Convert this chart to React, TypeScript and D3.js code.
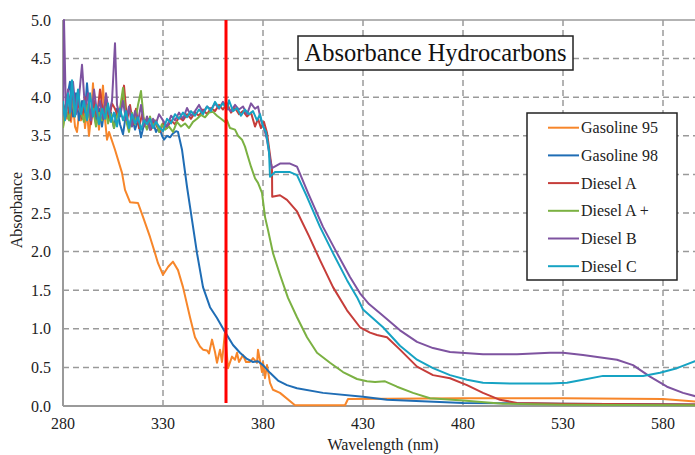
import * as React from 'react'
import * as d3 from 'd3'

// wavelength (nm), absorbance pairs
const gasoline95: [number, number][] = [
  [280, 3.62], [281, 3.85], [282, 3.72], [283, 3.8], [284, 3.68], [285, 3.9], [286, 3.62], [287, 3.55],
  [288, 3.78], [289, 3.7], [290, 3.95], [291, 3.6], [292, 3.82], [293, 3.5], [294, 3.75], [295, 4.18],
  [296, 3.7], [297, 3.85], [298, 3.58], [299, 3.9], [300, 4.15], [301, 3.72], [302, 3.45], [303, 3.55],
  [306, 3.32], [309.5, 3.02], [311, 2.8], [313.5, 2.64], [317.5, 2.63], [320, 2.45], [323.5, 2.19],
  [326, 1.98], [327.5, 1.85], [330, 1.7], [332.5, 1.8], [335, 1.87], [337.5, 1.76], [340, 1.54],
  [343.5, 1.15], [346, 0.89], [348.5, 0.77], [350, 0.73], [352, 0.72], [353, 0.68], [354.5, 0.86],
  [356, 0.7], [357, 0.56], [358.5, 0.73], [359.5, 0.57], [361, 0.96], [362.5, 0.49], [364.5, 0.64],
  [366, 0.6], [367, 0.69], [368, 0.57], [370, 0.66], [371.5, 0.57], [373.5, 0.57], [375, 0.62],
  [377, 0.56], [377.5, 0.73], [379.5, 0.44], [380, 0.57], [381, 0.36], [382, 0.53], [383.5, 0.3],
  [385, 0.21], [388.5, 0.17], [396, 0.01], [421, 0.01], [422.5, 0.09], [480, 0.1], [530, 0.1],
  [580, 0.09], [600, 0.05],
]

const gasoline98: [number, number][] = [
  [280, 3.92], [281, 3.72], [282, 3.98], [283.5, 4.2], [285, 3.75], [286.5, 4.05], [288, 3.7],
  [289.5, 3.95], [291, 3.8], [292, 4.18], [293.5, 3.72], [295, 3.95], [296.5, 3.65], [298, 3.85],
  [299.5, 3.62], [301, 3.9], [302.5, 3.7], [304, 3.8], [305.5, 3.6], [307, 3.85], [308.5, 3.65],
  [310, 3.52], [311.5, 3.78], [313, 3.62], [314.5, 3.75], [316, 3.58], [317.5, 3.7], [319, 3.48],
  [320.5, 3.65], [322, 3.72], [323.5, 3.58], [325, 3.68], [326.5, 3.55], [328, 3.62], [329.5, 3.5],
  [330.5, 3.45], [332, 3.5], [333.5, 3.48], [335, 3.53], [336.5, 3.56], [337.5, 3.55], [339.5, 3.32],
  [342, 2.84], [344.5, 2.41], [347, 1.98], [348.5, 1.76], [350, 1.54], [353.5, 1.28], [357, 1.14],
  [361, 0.96], [365, 0.79], [368.5, 0.69], [372, 0.61], [375, 0.57], [377.5, 0.58], [380, 0.53],
  [383.5, 0.43], [387.5, 0.33], [392, 0.27], [397, 0.23], [410, 0.17], [430, 0.12], [442, 0.08],
  [480, 0.04], [530, 0.03], [600, 0.02],
]

const dieselA: [number, number][] = [
  [280, 3.8], [282, 3.95], [283.5, 3.7], [285, 4.05], [286.5, 3.8], [288, 3.92], [289.5, 3.72],
  [291, 4.0], [292.5, 3.85], [294, 3.65], [295.5, 3.95], [297, 3.75], [298.5, 4.1], [300, 3.8],
  [301.5, 3.95], [303, 3.7], [304.5, 3.92], [306, 3.85], [307.5, 3.75], [309, 3.88], [310.5, 4.15],
  [312, 3.7], [313.5, 3.9], [315, 3.65], [316.5, 3.85], [318, 3.6], [319.5, 3.78], [321, 3.68],
  [322.5, 3.72], [324, 3.58], [325.5, 3.7], [327, 3.62], [328.5, 3.55], [330, 3.66], [332, 3.6],
  [334, 3.7], [336, 3.65], [338, 3.74], [340, 3.7], [342, 3.78], [344, 3.72], [346, 3.8], [348, 3.76],
  [350, 3.84], [352, 3.78], [354, 3.86], [356, 3.82], [358, 3.9], [360, 3.84], [362, 3.92], [364, 3.8],
  [366, 3.86], [368, 3.78], [370, 3.82], [372, 3.75], [374, 3.8], [376, 3.62], [377.5, 3.72],
  [379, 3.6], [380.5, 3.68], [382, 3.54], [384.5, 3.06], [384.6, 2.71], [388.5, 2.73], [392, 2.67],
  [397, 2.52], [403, 2.2], [408.5, 1.89], [415, 1.54], [422, 1.24], [428.5, 1.02], [433.5, 0.95],
  [437, 0.92], [442, 0.89], [448.5, 0.73], [457, 0.51], [465, 0.4], [473.5, 0.36], [482, 0.27],
  [490, 0.17], [498.5, 0.08], [507, 0.04], [530, 0.03], [600, 0.02],
]

const dieselAPlus: [number, number][] = [
  [280, 3.6], [281.5, 3.85], [283, 3.7], [284.5, 3.95], [286, 3.75], [287.5, 4.05], [289, 3.8],
  [290.5, 3.68], [292, 3.9], [293.5, 3.72], [295, 3.85], [296.5, 3.62], [298, 3.8], [299.5, 3.7],
  [301, 3.88], [302.5, 3.66], [304, 3.78], [305.5, 3.6], [307, 3.75], [308.5, 3.85], [310, 4.12],
  [311.5, 3.7], [313, 3.55], [314.5, 3.8], [316, 3.65], [317.5, 3.9], [319, 4.08], [320.5, 3.68],
  [322, 3.58], [323.5, 3.75], [325, 3.62], [326.5, 3.7], [328, 3.55], [329.5, 3.65], [331, 3.58],
  [333, 3.62], [335, 3.55], [337, 3.68], [339, 3.62], [341, 3.66], [343, 3.6], [345, 3.68],
  [347, 3.72], [349, 3.77], [351, 3.74], [353, 3.8], [355, 3.81], [357, 3.76], [359, 3.72],
  [361, 3.68], [362, 3.7], [363.5, 3.6], [366, 3.58], [367.5, 3.5], [369.5, 3.45], [371, 3.36],
  [372, 3.27], [374, 3.1], [376, 2.95], [377.5, 2.89], [379.5, 2.76], [381, 2.45], [382.5, 2.28],
  [385, 1.98], [388.5, 1.7], [392.5, 1.4], [397, 1.15], [402, 0.89], [407, 0.69], [413.5, 0.56],
  [420, 0.44], [427, 0.35], [432, 0.32], [436, 0.31], [441, 0.32], [447, 0.25], [455, 0.17],
  [463.5, 0.1], [480, 0.07], [500, 0.03], [530, 0.015], [600, 0.01],
]

const dieselB: [number, number][] = [
  [280, 3.8], [280.5, 5.0], [281.5, 3.75], [282.5, 4.1], [284, 3.82], [285, 4.2], [286.5, 3.78],
  [288, 4.0], [289.5, 4.42], [291, 3.85], [292.5, 4.05], [294, 3.7], [295.5, 4.1], [297, 3.8],
  [298.5, 3.95], [300, 3.72], [301.5, 4.05], [303, 3.78], [304.5, 3.95], [306, 4.7], [307, 3.9],
  [308.5, 3.75], [310, 3.95], [311.5, 3.7], [313, 3.88], [314.5, 3.62], [316, 3.82], [317.5, 3.68],
  [319, 3.9], [320.5, 3.62], [322, 3.75], [323.5, 3.58], [325, 3.72], [326.5, 3.66], [328, 3.78],
  [330, 3.7], [332, 3.62], [334, 3.76], [336, 3.7], [338, 3.8], [340, 3.72], [342, 3.86], [344, 3.76],
  [346, 3.82], [348, 3.9], [350, 3.8], [352, 3.88], [354, 3.84], [356, 3.92], [358, 3.85],
  [360, 3.94], [362, 3.86], [364, 3.82], [366, 3.9], [368, 3.84], [370, 3.88], [372, 3.78],
  [374, 3.92], [376, 3.85], [377.5, 3.88], [379, 3.7], [380.5, 3.6], [382, 3.45], [383.5, 3.2],
  [384.5, 3.08], [388.5, 3.14], [393.5, 3.14], [397, 3.1], [402.5, 2.76], [410, 2.32], [417, 1.98],
  [423.5, 1.67], [428.5, 1.46], [433, 1.32], [440, 1.17], [448.5, 0.98], [457, 0.83], [465, 0.75],
  [473.5, 0.7], [490, 0.67], [507, 0.67], [523.5, 0.69], [530, 0.69], [540, 0.66], [557, 0.6],
  [565, 0.53], [573.5, 0.38], [582, 0.25], [590, 0.17], [600, 0.1],
]

const dieselC: [number, number][] = [
  [280, 3.95], [281, 3.7], [282.5, 4.05], [283.5, 3.8], [284.5, 4.22], [286, 3.75], [287.5, 4.1],
  [289, 3.78], [290.5, 3.95], [292, 3.7], [293.5, 4.05], [295, 3.75], [296.5, 3.9], [298, 3.65],
  [299.5, 3.85], [301, 3.72], [302.5, 3.92], [304, 3.68], [305.5, 3.8], [307, 3.62], [308.5, 3.85],
  [310, 3.7], [311.5, 3.82], [313, 3.6], [314.5, 3.78], [316, 3.66], [317.5, 3.74], [319, 3.58],
  [320.5, 3.7], [322, 3.65], [323.5, 3.72], [325, 3.6], [326.5, 3.68], [328, 3.62], [330, 3.56],
  [332, 3.72], [334, 3.66], [336, 3.78], [338, 3.72], [340, 3.8], [342, 3.74], [344, 3.82],
  [346, 3.76], [348, 3.84], [350, 3.78], [352, 3.88], [354, 3.82], [356, 3.94], [358, 3.86],
  [360, 3.92], [362, 3.84], [363, 3.96], [365, 3.82], [367, 3.86], [369, 3.76], [371, 3.84],
  [373, 3.78], [375, 3.82], [377, 3.7], [378.5, 3.78], [380, 3.62], [381.5, 3.55], [383, 3.3],
  [383.5, 2.97], [386, 3.03], [393.5, 3.03], [397, 2.99], [402, 2.71], [408.5, 2.32], [415, 1.98],
  [422, 1.63], [427, 1.41], [430, 1.25], [440, 1.02], [448.5, 0.78], [457, 0.6], [465, 0.49],
  [473.5, 0.4], [482, 0.34], [490, 0.3], [507, 0.29], [523.5, 0.29], [532, 0.3], [540, 0.34],
  [550, 0.39], [562, 0.39], [570, 0.39], [578.5, 0.43], [587, 0.49], [596, 0.58], [600, 0.62],
]

const seriesNames = ['Gasoline 95', 'Gasoline 98', 'Diesel A', 'Diesel A +', 'Diesel B', 'Diesel C']
const seriesData = [gasoline95, gasoline98, dieselA, dieselAPlus, dieselB, dieselC]
const seriesColors = ['#F7862A', '#1F6DB5', '#C63D3A', '#7BB142', '#7E53A0', '#16A3C3']

const xTicks = [280, 330, 380, 430, 480, 530, 580]
const yTicks = [0, 0.5, 1, 1.5, 2, 2.5, 3, 3.5, 4, 4.5, 5]
const markerWavelength = 361.5

const App = () => {
  const width = 695
  const height = 455
  const left = 63
  const top = 20
  const bottom = 406

  const x = d3.scaleLinear().domain([280, 600]).range([left, 703])
  const y = d3.scaleLinear().domain([0, 5]).range([bottom, top])

  const line = d3.line<[number, number]>()
    .x(d => x(d[0]))
    .y(d => y(d[1]))

  const serif = { fontFamily: "'Liberation Serif', 'DejaVu Serif', serif" }
  const grid = '#9a9a9a'

  return (
    <svg width={width} height={height} style={{ position: 'absolute', left: 0, top: 0, background: '#fff' }}>
      <defs>
        <clipPath id="plot">
          <rect x={left} y={top - 2} width={width - left} height={bottom - top + 4} />
        </clipPath>
      </defs>

      {/* grid */}
      {yTicks.filter(t => t > 0 && t < 5).map(t => (
        <line key={'gy' + t} x1={left} x2={width} y1={y(t)} y2={y(t)}
          stroke={grid} strokeWidth={1.5} strokeDasharray="6,4" />
      ))}
      {xTicks.filter(t => t > 280).map(t => (
        <line key={'gx' + t} x1={x(t)} x2={x(t)} y1={top} y2={bottom}
          stroke={grid} strokeWidth={1.5} strokeDasharray="6,4" />
      ))}
      <line x1={left} x2={width} y1={top} y2={top} stroke={grid} strokeWidth={1.5} />

      {/* axes */}
      <line x1={left} x2={left} y1={top} y2={bottom} stroke={grid} strokeWidth={2} />
      <line x1={left} x2={width} y1={bottom} y2={bottom} stroke={grid} strokeWidth={2} />

      {/* series */}
      <g clipPath="url(#plot)">
        {seriesData.map((s, i) => (
          <path key={seriesNames[i]} d={line(s) || ''} fill="none"
            stroke={seriesColors[i]} strokeWidth={2} strokeLinejoin="round" />
        ))}
      </g>

      {/* marker line */}
      <line x1={x(markerWavelength)} x2={x(markerWavelength)} y1={top} y2={bottom - 3}
        stroke="#FF0000" strokeWidth={3} />

      <g style={serif} fill="#222">
        {yTicks.map(t => (
          <text key={'ty' + t} x={51} y={y(t)} dy="0.35em" textAnchor="end" fontSize={16}>
            {t.toFixed(1)}
          </text>
        ))}
        {xTicks.map(t => (
          <text key={'tx' + t} x={x(t)} y={429} textAnchor="middle" fontSize={16}>{t}</text>
        ))}
        <text x={383} y={450} textAnchor="middle" fontSize={16}>Wavelength (nm)</text>
        <text transform={`translate(22, 210) rotate(-90)`} textAnchor="middle" fontSize={16}>
          Absorbance
        </text>
      </g>

      {/* title */}
      <rect x={298} y={36} width={275} height={34} fill="#fff" stroke="#222" strokeWidth={1.5} />
      <text x={435.5} y={61} textAnchor="middle" style={serif} fontSize={24.5} fill="#111">
        Absorbance Hydrocarbons
      </text>

      {/* legend */}
      <rect x={527} y={113} width={150} height={167} fill="#fff" stroke="#222" strokeWidth={1.5} />
      {seriesNames.map((n, i) => {
        const cy = 127.7 + i * 27.7
        return (
          <g key={'lg' + n}>
            <line x1={548} x2={579} y1={cy} y2={cy} stroke={seriesColors[i]} strokeWidth={2} />
            <text x={581} y={cy} dy="0.35em" style={serif} fontSize={16} fill="#222">{n}</text>
          </g>
        )
      })}
    </svg>
  )
}

export default App
